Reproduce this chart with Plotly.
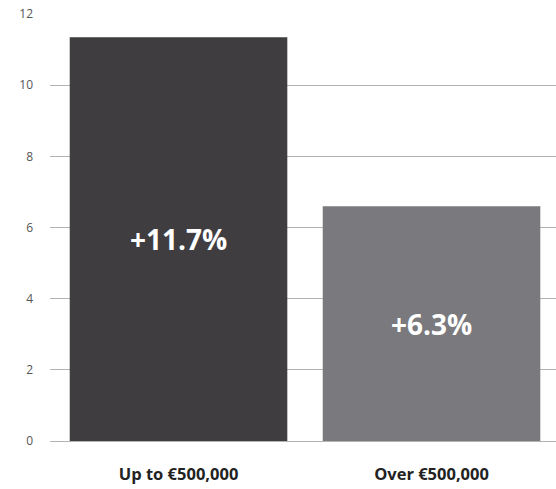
import plotly.graph_objects as go

categories = ["Up to €500,000", "Over €500,000"]
values = [11.35, 6.6]
labels = ["+11.7%", "+6.3%"]
bar_colors = ["#3f3d40", "#7a797d"]
y_ticks = [0, 2, 4, 6, 8, 10, 12]

fig = go.Figure(
    go.Bar(
        x=categories,
        y=values,
        text=labels,
        textposition="inside",
        insidetextanchor="middle",
        textangle=0,
        textfont=dict(family="Open Sans", size=28, color="white", weight="bold"),
        marker=dict(color=bar_colors, line=dict(width=0)),
        hoverinfo="skip",
    )
)

fig.update_layout(
    width=556,
    height=489,
    margin=dict(l=50, r=0, t=14, b=48),
    paper_bgcolor="white",
    plot_bgcolor="white",
    bargap=0.14,
    showlegend=False,
)

fig.update_xaxes(
    range=[-0.508, 1.492],
    tickfont=dict(family="Open Sans", size=16.5, color="#222222", weight="bold"),
    showgrid=False,
    showline=False,
    ticks="",
    ticklabelstandoff=21,
)

fig.update_yaxes(
    range=[0, 12],
    tickvals=y_ticks,
    showgrid=True,
    gridcolor="#b3b3b3",
    gridwidth=1,
    zeroline=True,
    zerolinecolor="#b3b3b3",
    zerolinewidth=1,
    showline=False,
    ticks="",
    tickfont=dict(family="Open Sans", size=12, color="#555555"),
    ticklabelstandoff=16,
)

fig.write_html("out.html")
